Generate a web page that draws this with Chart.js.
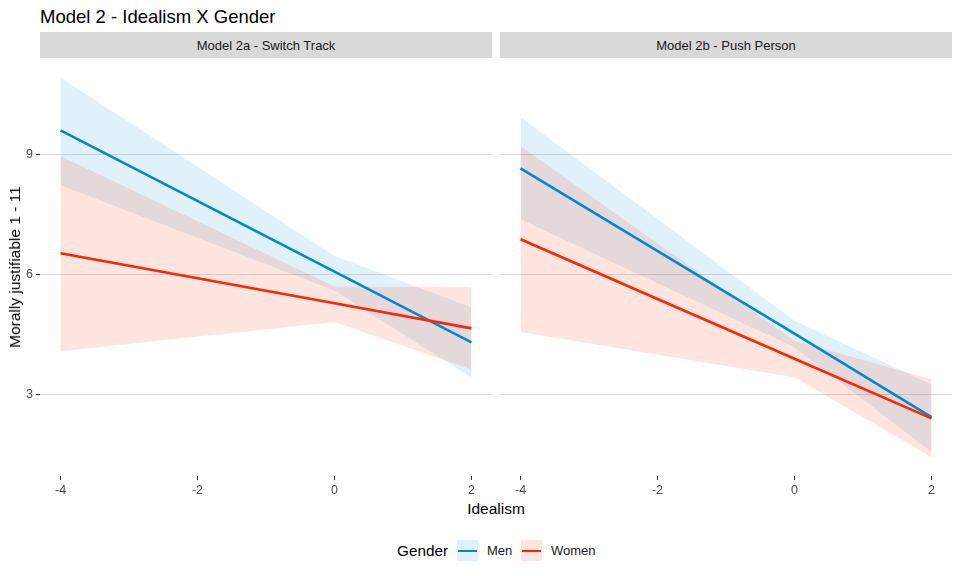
<!DOCTYPE html>
<html>
<head>
<meta charset="utf-8">
<script src="https://cdn.jsdelivr.net/npm/chart.js@4.4.1/dist/chart.umd.min.js"></script>
<style>
  html, body { margin:0; padding:0; background:#ffffff; }
  #wrap { position:relative; width:960px; height:576px; overflow:hidden; font-family:"Liberation Sans", Arial, sans-serif; }
  .abs { position:absolute; white-space:nowrap; }
  .strip { position:absolute; top:32px; height:26px; background:#d9d9d9; color:#1a1a1a; font-size:13px; display:flex; align-items:center; justify-content:center; }
  canvas { position:absolute; }
</style>
</head>
<body>
<div id="wrap">
  <div class="abs" id="title" style="left:40px; top:6px; height:21px; line-height:21px; font-size:18.5px; color:#000;"></div>
  <div class="strip" id="stripA" style="left:40px; width:452px;"></div>
  <div class="strip" id="stripB" style="left:500px; width:452px;"></div>
  <canvas id="cA" width="492" height="460" style="left:0px; top:40px;"></canvas>
  <canvas id="cB" width="452" height="460" style="left:500px; top:40px;"></canvas>
  <div class="abs" id="ytitle" style="left:15px; top:267px; font-size:15.5px; color:#000; transform:translate(-50%,-50%) rotate(-90deg);"></div>
  <div class="abs" id="xtitle" style="left:496px; top:509px; font-size:15.5px; color:#000; transform:translate(-50%,-50%);"></div>
  <div id="legend"></div>
</div>
<script>
// ---------- data ----------
const chartTitle = "Model 2 - Idealism X Gender";
const panelTitles = ["Model 2a - Switch Track", "Model 2b - Push Person"];
const xTitle = "Idealism";
const yTitle = "Morally justifiable 1 - 11";
const legendTitle = "Gender";
const seriesNames = ["Men", "Women"];

const idealism = [-4, 0, 2];          // x positions of fitted values / ribbon points
const xTicks = [-4, -2, 0, 2];
const yTicks = [3, 6, 9];

// Panel A: Model 2a - Switch Track
const menFitA    = [9.60, 6.07, 4.30];
const menLowA    = [8.23, 5.60, 3.42];
const menHighA   = [10.92, 6.46, 5.18];
const womenFitA  = [6.53, 5.28, 4.65];
const womenLowA  = [4.08, 4.81, 3.62];
const womenHighA = [8.96, 5.70, 5.68];

// Panel B: Model 2b - Push Person
const menFitB    = [8.65, 4.52, 2.43];
const menLowB    = [7.38, 4.18, 1.56];
const menHighB   = [9.93, 4.84, 3.25];
const womenFitB  = [6.88, 3.89, 2.40];
const womenLowB  = [4.56, 3.43, 1.43];
const womenHighB = [9.21, 4.34, 3.38];

// ---------- styling ----------
const FONT = '"Liberation Sans", Arial, sans-serif';
const lineColors = ["#0088d1", "#ff2600"];
const fillColors = ["rgba(0,136,209,0.12)", "rgba(255,38,0,0.12)"];
const keyFills   = ["rgb(224,241,249)", "rgb(255,229,224)"];

document.getElementById('title').textContent = chartTitle;
document.getElementById('stripA').textContent = panelTitles[0];
document.getElementById('stripB').textContent = panelTitles[1];
document.getElementById('xtitle').textContent = xTitle;
document.getElementById('ytitle').textContent = yTitle;

// legend
(function(){
  const lg = document.getElementById('legend');
  const t = document.createElement('div');
  t.className = 'abs';
  t.style.cssText = 'left:397px; top:541px; height:20px; line-height:20px; font-size:15.3px; color:#000;';
  t.textContent = legendTitle;
  lg.appendChild(t);
  const keyLeft = [457, 521];
  const labLeft = [487, 551];
  seriesNames.forEach((n, i) => {
    const k = document.createElement('div');
    k.className = 'abs';
    k.style.cssText = `left:${keyLeft[i]}px; top:540px; width:21px; height:21px; background:${keyFills[i]};`;
    const ln = document.createElement('div');
    ln.style.cssText = `position:absolute; left:1px; right:1px; top:9.5px; height:2.5px; background:${lineColors[i]};`;
    k.appendChild(ln);
    lg.appendChild(k);
    const l = document.createElement('div');
    l.className = 'abs';
    l.style.cssText = `left:${labLeft[i]}px; top:541px; height:20px; line-height:20px; font-size:13px; color:#1a1a1a;`;
    l.textContent = n;
    lg.appendChild(l);
  });
})();

const pts = arr => idealism.map((x, i) => ({ x: x, y: arr[i] }));

function makePanel(id, fits, lows, highs, showY) {
  const datasets = [];
  // ribbons (upper filled to lower); Women ribbon drawn above Men ribbon
  for (let s = 0; s < 2; s++) {
    const ord = 4 - s;
    datasets.push({ data: pts(highs[s]), fill: '+1', backgroundColor: fillColors[s], borderColor: 'rgba(0,0,0,0)', borderWidth: 0, pointRadius: 0, tension: 0, order: ord });
    datasets.push({ data: pts(lows[s]), fill: false, borderColor: 'rgba(0,0,0,0)', borderWidth: 0, pointRadius: 0, tension: 0, order: ord });
  }
  // fitted lines (Women on top)
  for (let s = 0; s < 2; s++) {
    datasets.push({ data: pts(fits[s]), fill: false, borderColor: lineColors[s], borderWidth: 2.6, pointRadius: 0, tension: 0, order: 1 - s });
  }
  return new Chart(document.getElementById(id), {
    type: 'line',
    data: { datasets },
    options: {
      responsive: false,
      animation: false,
      devicePixelRatio: 1,
      events: [],
      layout: { padding: { top: 18, left: 0, right: 0, bottom: 0 } },
      plugins: { legend: { display: false }, tooltip: { enabled: false }, title: { display: false } },
      scales: {
        x: {
          type: 'linear', min: -4.3, max: 2.3,
          afterBuildTicks: s => { s.ticks = xTicks.map(v => ({ value: v })); },
          afterFit: s => { s.height = 24; },
          grid: { drawOnChartArea: false, drawTicks: true, tickLength: 4, tickColor: '#333333', color: '#333333' },
          border: { display: false },
          ticks: { color: '#4d4d4d', font: { family: FONT, size: 12.5 }, padding: 3, maxRotation: 0, autoSkip: false }
        },
        y: {
          type: 'linear', min: 0.96, max: 11.41,
          afterBuildTicks: s => { s.ticks = yTicks.map(v => ({ value: v })); },
          afterFit: s => { s.width = showY ? 40 : 0; },
          grid: { color: '#dcdcdc', lineWidth: 1, drawTicks: showY, tickLength: showY ? 4 : 0, tickColor: '#333333' },
          border: { display: false },
          ticks: { display: showY, color: '#4d4d4d', font: { family: FONT, size: 12.5 }, padding: 3 }
        }
      }
    }
  });
}

makePanel('cA', [menFitA, womenFitA], [menLowA, womenLowA], [menHighA, womenHighA], true);
makePanel('cB', [menFitB, womenFitB], [menLowB, womenLowB], [menHighB, womenHighB], false);
</script>
</body>
</html>
